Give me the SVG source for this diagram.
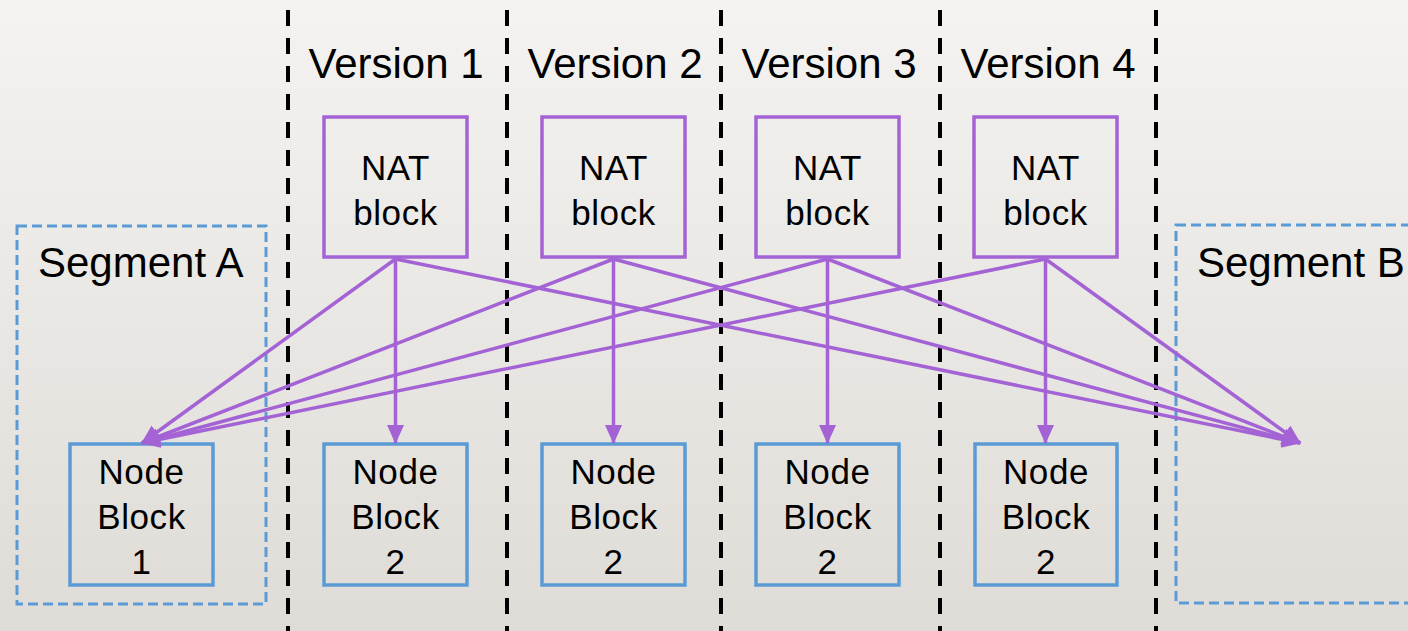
<svg xmlns="http://www.w3.org/2000/svg" width="1408" height="631" viewBox="0 0 1408 631">
  <defs>
    <linearGradient id="bg" x1="0" y1="0" x2="0" y2="1">
      <stop offset="0" stop-color="#f4f3f1"/>
      <stop offset="1" stop-color="#dfdcd7"/>
    </linearGradient>
    <marker id="arrow" markerUnits="userSpaceOnUse" markerWidth="20" markerHeight="18" refX="18" refY="8.5" orient="auto">
      <path d="M0,0 L19,8.5 L0,17 z" fill="#a463d5"/>
    </marker>
    <style>
      .divider { stroke:#000; stroke-width:4; stroke-dasharray:16 12; fill:none; }
      .segment { stroke:#5b9bd5; stroke-width:3; stroke-dasharray:10 5; fill:none; }
      .nat { stroke:#a463d5; stroke-width:3.5; fill:none; }
      .node { stroke:#5b9bd5; stroke-width:3.5; fill:none; }
      .link { stroke:#a463d5; stroke-width:3.5; fill:none; marker-end:url(#arrow); }
      .head { font-family:"Liberation Sans", Arial, sans-serif; font-size:42px; fill:#000; }
      .label { font-family:"Liberation Sans", Arial, sans-serif; font-size:35px; letter-spacing:0.6px; fill:#000; text-anchor:middle; }
    </style>
  </defs>

  <rect x="0" y="0" width="1408" height="631" fill="url(#bg)"/>

  <!-- version column dividers -->
  <g id="dividers">
    <line class="divider" x1="288" y1="10" x2="288" y2="631"/>
    <line class="divider" x1="507" y1="10" x2="507" y2="631"/>
    <line class="divider" x1="721" y1="10" x2="721" y2="631"/>
    <line class="divider" x1="940" y1="10" x2="940" y2="631"/>
    <line class="divider" x1="1156" y1="10" x2="1156" y2="631"/>
  </g>

  <!-- column headings -->
  <g id="headings" class="head" text-anchor="middle">
    <text x="396" y="78">Version 1</text>
    <text x="615" y="78">Version 2</text>
    <text x="829" y="78">Version 3</text>
    <text x="1048" y="78">Version 4</text>
  </g>

  <!-- segments -->
  <g id="segment-a">
    <rect class="segment" x="17" y="226" width="249" height="378"/>
    <text class="head" x="38" y="277">Segment A</text>
  </g>
  <g id="segment-b">
    <rect class="segment" x="1176" y="225" width="260" height="378"/>
    <text class="head" x="1197" y="277">Segment B</text>
  </g>

  <!-- NAT blocks -->
  <g id="nat-1">
    <rect class="nat" x="324" y="117" width="143" height="140"/>
    <text class="label" x="395.5" y="180">NAT</text>
    <text class="label" x="395.5" y="225">block</text>
  </g>
  <g id="nat-2">
    <rect class="nat" x="542" y="117" width="143" height="140"/>
    <text class="label" x="613.5" y="180">NAT</text>
    <text class="label" x="613.5" y="225">block</text>
  </g>
  <g id="nat-3">
    <rect class="nat" x="756" y="117" width="143" height="140"/>
    <text class="label" x="827.5" y="180">NAT</text>
    <text class="label" x="827.5" y="225">block</text>
  </g>
  <g id="nat-4">
    <rect class="nat" x="974" y="117" width="143" height="140"/>
    <text class="label" x="1045.5" y="180">NAT</text>
    <text class="label" x="1045.5" y="225">block</text>
  </g>

  <!-- node blocks -->
  <g id="node-1">
    <rect class="node" x="70" y="444" width="143" height="141"/>
    <text class="label" x="141.5" y="484">Node</text>
    <text class="label" x="141.5" y="529">Block</text>
    <text class="label" x="141.5" y="574">1</text>
  </g>
  <g id="node-2a">
    <rect class="node" x="324" y="444" width="143" height="141"/>
    <text class="label" x="395.5" y="484">Node</text>
    <text class="label" x="395.5" y="529">Block</text>
    <text class="label" x="395.5" y="574">2</text>
  </g>
  <g id="node-2b">
    <rect class="node" x="542" y="444" width="143" height="141"/>
    <text class="label" x="613.5" y="484">Node</text>
    <text class="label" x="613.5" y="529">Block</text>
    <text class="label" x="613.5" y="574">2</text>
  </g>
  <g id="node-2c">
    <rect class="node" x="756" y="444" width="143" height="141"/>
    <text class="label" x="827.5" y="484">Node</text>
    <text class="label" x="827.5" y="529">Block</text>
    <text class="label" x="827.5" y="574">2</text>
  </g>
  <g id="node-2d">
    <rect class="node" x="975" y="444" width="142" height="141"/>
    <text class="label" x="1046" y="484">Node</text>
    <text class="label" x="1046" y="529">Block</text>
    <text class="label" x="1046" y="574">2</text>
  </g>

  <!-- connectors -->
  <g id="connectors">
    <line class="link" x1="395.5" y1="259" x2="395.5" y2="443"/>
    <line class="link" x1="613.5" y1="259" x2="613.5" y2="443"/>
    <line class="link" x1="827.5" y1="259" x2="827.5" y2="443"/>
    <line class="link" x1="1045.5" y1="259" x2="1045.5" y2="443"/>

    <line class="link" x1="395.5" y1="259" x2="142" y2="443"/>
    <line class="link" x1="613.5" y1="259" x2="142" y2="443"/>
    <line class="link" x1="827.5" y1="259" x2="142" y2="443"/>
    <line class="link" x1="1045.5" y1="259" x2="142" y2="443"/>

    <line class="link" x1="395.5" y1="259" x2="1300" y2="443"/>
    <line class="link" x1="613.5" y1="259" x2="1300" y2="443"/>
    <line class="link" x1="827.5" y1="259" x2="1300" y2="443"/>
    <line class="link" x1="1045.5" y1="259" x2="1300" y2="443"/>
  </g>
</svg>
